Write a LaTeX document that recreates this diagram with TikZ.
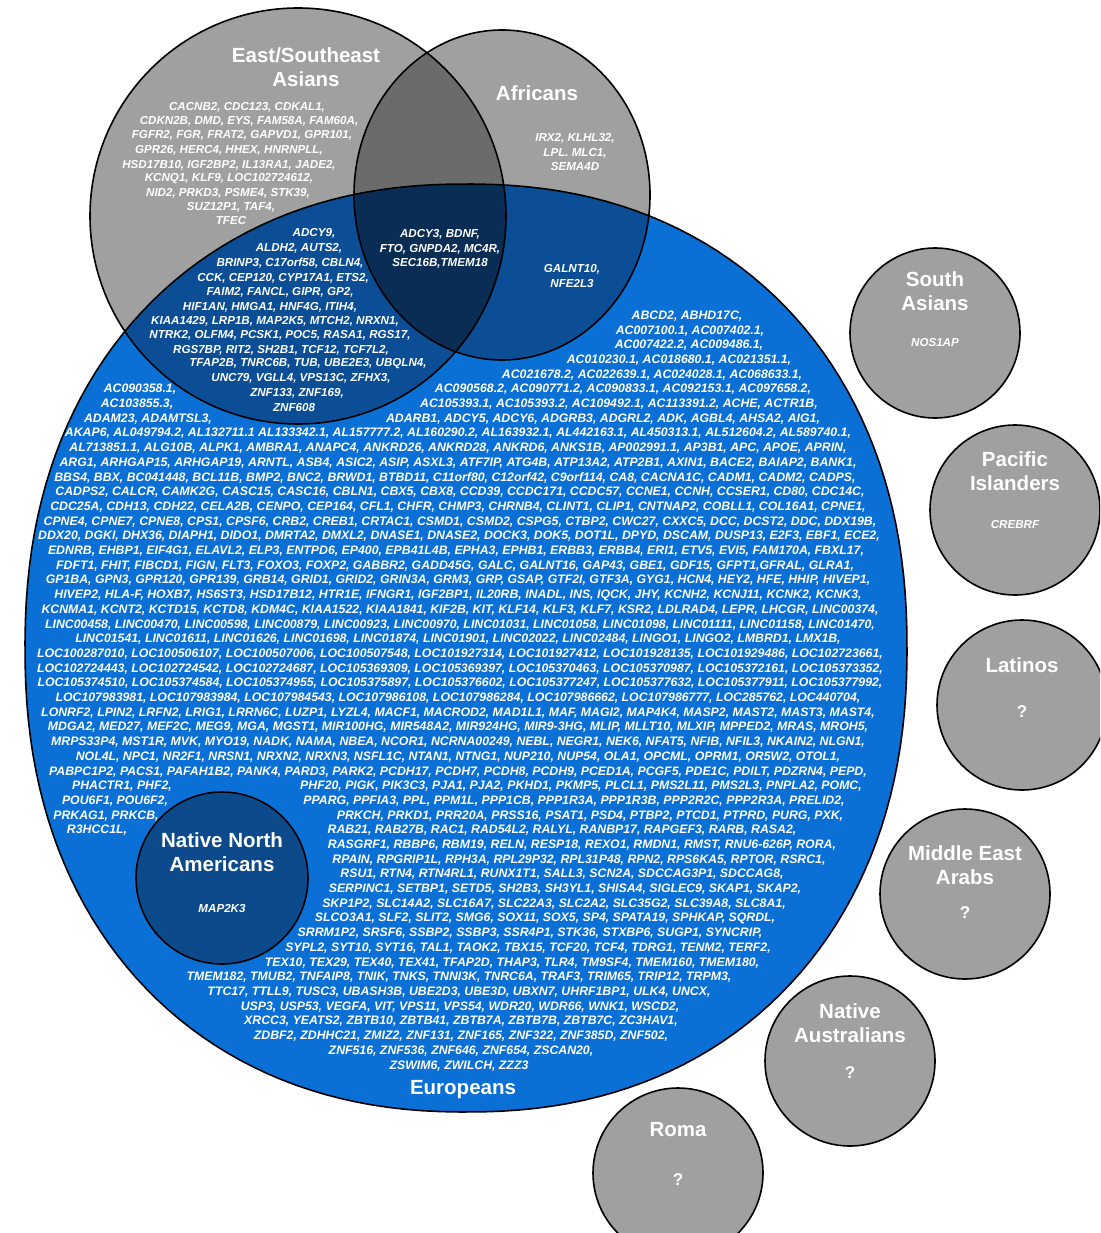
\documentclass[tikz,border=0pt]{standalone}
\usepackage{fontspec}
\setmainfont{Liberation Sans}
\definecolor{popgrey}{HTML}{A0A0A0}
\definecolor{lensgrey}{HTML}{6B6B6B}
\definecolor{eublue}{HTML}{0A70D6}
\definecolor{midblue}{HTML}{0B4E96}
\definecolor{deepblue}{HTML}{0A2D55}
\definecolor{nnablue}{HTML}{0D4A8C}

\tikzset{
  popname/.style={text=white,font=\bfseries\fontsize{20.5}{24}\selectfont,align=center},
  genes/.style={text=white,font=\bfseries\itshape\fontsize{11.6}{14.5}\selectfont,align=center},
  eugenes/.style={text=white,font=\bfseries\itshape\fontsize{12.3}{14.7}\selectfont,inner sep=0pt},
  qmark/.style={text=white,font=\bfseries\fontsize{17}{17}\selectfont},
  rim/.style={draw=black,line width=1.6pt},
}

% Europeans is a slightly squarish oval (superellipse, n = 2.2)
\def\eurpath{plot[domain=0.5:358.5,samples=180,variable=\t]
  ({466+441*cos(\t)*abs(cos(\t))^(-0.0909)},{648+464*sin(\t)*abs(sin(\t))^(-0.0909)}) -- cycle}
\def\eapath{(298,216) circle (208pt)}
\def\afpath{(502,195) ellipse [x radius=148pt, y radius=165pt]}

\begin{document}
\begin{tikzpicture}[x=1pt,y=-1pt]
  \clip (0,0) rectangle (1100,1233);

  % the three overlapping groups
  \fill[eublue] \eurpath;
  \fill[popgrey] \eapath;
  \fill[popgrey] \afpath;
  \begin{scope}
    \clip \eapath; \fill[midblue] \eurpath;
  \end{scope}
  \begin{scope}
    \clip \afpath; \fill[midblue] \eurpath;
  \end{scope}
  \begin{scope}
    \clip \eapath; \fill[lensgrey] \afpath;
    \clip \afpath; \fill[deepblue] \eurpath;
  \end{scope}
  \draw[rim] \eurpath;
  \draw[rim] \eapath;
  \draw[rim] \afpath;
  \filldraw[rim,fill=nnablue] (222,878) circle (86pt);

  % group names
  \node[popname] (eaname) at (306,67) {East/Southeast\\Asians};
  \node[popname] (afname) at (537,93) {Africans};
  \node[popname] (euname) at (463,1090) {Europeans};
  \node[popname] (nnaname) at (222,852) {Native North\\Americans};
  \node[genes] (nnagenes) at (222,908) {MAP2K3};

  % East/Southeast Asians only
  \foreach \y/\xc/\txt in {%
    107/247/{CACNB2, CDC123, CDKAL1,},
    121/249/{CDKN2B, DMD, EYS, FAM58A, FAM60A,},
    135/242/{FGFR2, FGR, FRAT2, GAPVD1, GPR101,},
    150/229/{GPR26, HERC4, HHEX, HNRNPLL,},
    165/229/{HSD17B10, IGF2BP2, IL13RA1, JADE2,},
    179/229/{KCNQ1, KLF9, LOC102724612,},
    193/228/{NID2, PRKD3, PSME4, STK39,},
    207/231/{SUZ12P1, TAF4,},
    221/231/{TFEC}}{
      \node[genes,inner sep=0pt] (ea-\y) at (\xc,\y) {\txt};
  }

  % East/Southeast Asians and Europeans
  \foreach \y/\xc/\txt in {%
    233/314/{ADCY9,},
    248/299/{ALDH2, AUTS2,},
    263/290/{BRINP3, C17orf58, CBLN4,},
    278/283/{CCK, CEP120, CYP17A1, ETS2,},
    292/280/{FAIM2, FANCL, GIPR, GP2,},
    307/270/{HIF1AN, HMGA1, HNF4G, ITIH4,},
    321/275/{KIAA1429, LRP1B, MAP2K5, MTCH2, NRXN1,},
    335/280/{NTRK2, OLFM4, PCSK1, POC5, RASA1, RGS17,},
    350/281/{RGS7BP, RIT2, SH2B1, TCF12, TCF7L2,},
    364/308/{TFAP2B, TNRC6B, TUB, UBE2E3, UBQLN4,},
    378/301/{UNC79, VGLL4, VPS13C, ZFHX3,},
    393/297/{ZNF133, ZNF169,},
    408/294/{ZNF608}}{
      \node[genes,inner sep=0pt] (eaeu-\y) at (\xc,\y) {\txt};
  }

  \node[genes] (afgenes) at (575,152.5) {IRX2, KLHL32,\\LPL. MLC1,\\SEMA4D};
  \node[genes] (triple) at (440,249) {ADCY3, BDNF,\\FTO, GNPDA2, MC4R,\\SEC16B,TMEM18};
  \node[genes] (afeu) at (572,276) {GALNT10,\\NFE2L3};

  % Europeans only: row, centre, genes
  \foreach \i/\xc/\txt in {%
    0/687/{ABCD2, ABHD17C,},
    1/690/{AC007100.1, AC007402.1,},
    2/689/{AC007422.2, AC009486.1,},
    3/679/{AC010230.1, AC018680.1, AC021351.1,},
    4/652/{AC021678.2, AC022639.1, AC024028.1, AC068633.1,},
    5/623/{AC090568.2, AC090771.2, AC090833.1, AC092153.1, AC097658.2,},
    5/140/{AC090358.1,},
    6/619/{AC105393.1, AC105393.2, AC109492.1, AC113391.2, ACHE, ACTR1B,},
    6/137/{AC103855.3,},
    7/603/{ADARB1, ADCY5, ADCY6, ADGRB3, ADGRL2, ADK, AGBL4, AHSA2, AIG1,},
    7/148/{ADAM23, ADAMTSL3,},
    8/458/{AKAP6, AL049794.2, AL132711.1 AL133342.1, AL157777.2, AL160290.2, AL163932.1, AL442163.1, AL450313.1, AL512604.2, AL589740.1,},
    9/458/{AL713851.1, ALG10B, ALPK1, AMBRA1, ANAPC4, ANKRD26, ANKRD28, ANKRD6, ANKS1B, AP002991.1, AP3B1, APC, APOE, APRIN,},
    10/458/{ARG1, ARHGAP15, ARHGAP19, ARNTL, ASB4, ASIC2, ASIP, ASXL3, ATF7IP, ATG4B, ATP13A2, ATP2B1, AXIN1, BACE2, BAIAP2, BANK1,},
    11/455/{BBS4, BBX, BC041448, BCL11B, BMP2, BNC2, BRWD1, BTBD11, C11orf80, C12orf42, C9orf114, CA8, CACNA1C, CADM1, CADM2, CADPS,},
    12/460/{CADPS2, CALCR, CAMK2G, CASC15, CASC16, CBLN1, CBX5, CBX8, CCD39, CCDC171, CCDC57, CCNE1, CCNH, CCSER1, CD80, CDC14C,},
    13/458/{CDC25A, CDH13, CDH22, CELA2B, CENPO, CEP164, CFL1, CHFR, CHMP3, CHRNB4, CLINT1, CLIP1, CNTNAP2, COBLL1, COL16A1, CPNE1,},
    14/460/{CPNE4, CPNE7, CPNE8, CPS1, CPSF6, CRB2, CREB1, CRTAC1, CSMD1, CSMD2, CSPG5, CTBP2, CWC27, CXXC5, DCC, DCST2, DDC, DDX19B,},
    15/459/{DDX20, DGKI, DHX36, DIAPH1, DIDO1, DMRTA2, DMXL2, DNASE1, DNASE2, DOCK3, DOK5, DOT1L, DPYD, DSCAM, DUSP13, E2F3, EBF1, ECE2,},
    16/456/{EDNRB, EHBP1, EIF4G1, ELAVL2, ELP3, ENTPD6, EP400, EPB41L4B, EPHA3, EPHB1, ERBB3, ERBB4, ERI1, ETV5, EVI5, FAM170A, FBXL17,},
    17/455/{FDFT1, FHIT, FIBCD1, FIGN, FLT3, FOXO3, FOXP2, GABBR2, GADD45G, GALC, GALNT16, GAP43, GBE1, GDF15, GFPT1,GFRAL, GLRA1,},
    18/458/{GP1BA, GPN3, GPR120, GPR139, GRB14, GRID1, GRID2, GRIN3A, GRM3, GRP, GSAP, GTF2I, GTF3A, GYG1, HCN4, HEY2, HFE, HHIP, HIVEP1,},
    19/458/{HIVEP2, HLA-F, HOXB7, HS6ST3, HSD17B12, HTR1E, IFNGR1, IGF2BP1, IL20RB, INADL, INS, IQCK, JHY, KCNH2, KCNJ11, KCNK2, KCNK3,},
    20/460/{KCNMA1, KCNT2, KCTD15, KCTD8, KDM4C, KIAA1522, KIAA1841, KIF2B, KIT, KLF14, KLF3, KLF7, KSR2, LDLRAD4, LEPR, LHCGR, LINC00374,},
    21/460/{LINC00458, LINC00470, LINC00598, LINC00879, LINC00923, LINC00970, LINC01031, LINC01058, LINC01098, LINC01111, LINC01158, LINC01470,},
    22/458/{LINC01541, LINC01611, LINC01626, LINC01698, LINC01874, LINC01901, LINC02022, LINC02484, LINGO1, LINGO2, LMBRD1, LMX1B,},
    23/460/{LOC100287010, LOC100506107, LOC100507006, LOC100507548, LOC101927314, LOC101927412, LOC101928135, LOC101929486, LOC102723661,},
    24/460/{LOC102724443, LOC102724542, LOC102724687, LOC105369309, LOC105369397, LOC105370463, LOC105370987, LOC105372161, LOC105373352,},
    25/460/{LOC105374510, LOC105374584, LOC105374955, LOC105375897, LOC105376602, LOC105377247, LOC105377632, LOC105377911, LOC105377992,},
    26/458/{LOC107983981, LOC107983984, LOC107984543, LOC107986108, LOC107986284, LOC107986662, LOC107986777, LOC285762, LOC440704,},
    27/458/{LONRF2, LPIN2, LRFN2, LRIG1, LRRN6C, LUZP1, LYZL4, MACF1, MACROD2, MAD1L1, MAF, MAGI2, MAP4K4, MASP2, MAST2, MAST3, MAST4,},
    28/458/{MDGA2, MED27, MEF2C, MEG9, MGA, MGST1, MIR100HG, MIR548A2, MIR924HG, MIR9-3HG, MLIP, MLLT10, MLXIP, MPPED2, MRAS, MROH5,},
    29/458/{MRPS33P4, MST1R, MVK, MYO19, NADK, NAMA, NBEA, NCOR1, NCRNA00249, NEBL, NEGR1, NEK6, NFAT5, NFIB, NFIL3, NKAIN2, NLGN1,},
    30/458/{NOL4L, NPC1, NR2F1, NRSN1, NRXN2, NRXN3, NSFL1C, NTAN1, NTNG1, NUP210, NUP54, OLA1, OPCML, OPRM1, OR5W2, OTOL1,},
    31/458/{PABPC1P2, PACS1, PAFAH1B2, PANK4, PARD3, PARK2, PCDH17, PCDH7, PCDH8, PCDH9, PCED1A, PCGF5, PDE1C, PDILT, PDZRN4, PEPD,},
    32/122/{PHACTR1, PHF2,},
    32/581/{PHF20, PIGK, PIK3C3, PJA1, PJA2, PKHD1, PKMP5, PLCL1,  PMS2L11, PMS2L3, PNPLA2, POMC,},
    33/115/{POU6F1, POU6F2,},
    33/574/{PPARG, PPFIA3, PPL, PPM1L, PPP1CB, PPP1R3A, PPP1R3B, PPP2R2C, PPP2R3A, PRELID2,},
    34/106/{PRKAG1, PRKCB,},
    34/590/{PRKCH, PRKD1, PRR20A, PRSS16, PSAT1, PSD4, PTBP2, PTCD1, PTPRD, PURG, PXK,},
    35/97/{R3HCC1L,},
    35/562/{RAB21, RAB27B, RAC1, RAD54L2, RALYL, RANBP17, RAPGEF3, RARB, RASA2,},
    36/582/{RASGRF1, RBBP6, RBM19, RELN, RESP18, REXO1, RMDN1, RMST, RNU6-626P, RORA,},
    37/579/{RPAIN, RPGRIP1L, RPH3A, RPL29P32, RPL31P48, RPN2, RPS6KA5, RPTOR, RSRC1,},
    38/562/{RSU1, RTN4, RTN4RL1, RUNX1T1, SALL3, SCN2A, SDCCAG3P1, SDCCAG8,},
    39/565/{SERPINC1, SETBP1, SETD5, SH2B3, SH3YL1, SHISA4, SIGLEC9, SKAP1, SKAP2,},
    40/554/{SKP1P2, SLC14A2, SLC16A7, SLC22A3, SLC2A2, SLC35G2, SLC39A8, SLC8A1,},
    41/545/{SLCO3A1, SLF2, SLIT2, SMG6, SOX11, SOX5, SP4, SPATA19, SPHKAP, SQRDL,},
    42/530/{SRRM1P2, SRSF6, SSBP2, SSBP3, SSR4P1, STK36, STXBP6, SUGP1, SYNCRIP,},
    43/528/{SYPL2, SYT10, SYT16, TAL1, TAOK2, TBX15, TCF20, TCF4, TDRG1, TENM2, TERF2,},
    44/512/{TEX10, TEX29, TEX40, TEX41, TFAP2D, THAP3, TLR4, TM9SF4, TMEM160, TMEM180,},
    45/459/{TMEM182, TMUB2, TNFAIP8, TNIK, TNKS, TNNI3K, TNRC6A, TRAF3, TRIM65, TRIP12, TRPM3,},
    46/459/{TTC17, TTLL9, TUSC3, UBASH3B, UBE2D3, UBE3D, UBXN7, UHRF1BP1, ULK4, UNCX,},
    47/460/{USP3, USP53, VEGFA, VIT, VPS11, VPS54, WDR20, WDR66, WNK1, WSCD2,},
    48/461/{XRCC3, YEATS2, ZBTB10, ZBTB41, ZBTB7A, ZBTB7B, ZBTB7C, ZC3HAV1,},
    49/461/{ZDBF2, ZDHHC21, ZMIZ2, ZNF131, ZNF165, ZNF322, ZNF385D, ZNF502,},
    50/461/{ZNF516, ZNF536, ZNF646, ZNF654, ZSCAN20,},
    51/459/{ZSWIM6, ZWILCH, ZZZ3}}{
      \node[eugenes] (eu-\i-\xc) at (\xc,{316+14.7*\i}) {\txt};
  }

  % the groups without overlaps
  \foreach \nm/\cx/\cy/\ty/\ttl/\gy/\gn/\gs in {%
    south/935/333/291.5/{South\\Asians}/343/NOS1AP/genes,
    pacific/1015/510/471.5/{Pacific\\Islanders}/525/CREBRF/genes,
    latino/1022/705/665/{Latinos}/712/?/qmark,
    arab/965/894/865/{Middle East\\Arabs}/913/?/qmark,
    aus/850/1061/1023.5/{Native\\Australians}/1073/?/qmark,
    roma/678/1173/1130/{Roma}/1180/?/qmark}{
      \filldraw[rim,fill=popgrey] (\cx,\cy) circle (85pt);
      \node[popname] (\nm-name) at (\cx,\ty) {\ttl};
      \node[\gs] (\nm-genes) at (\cx,\gy) {\gn};
  }
\end{tikzpicture}
\end{document}
